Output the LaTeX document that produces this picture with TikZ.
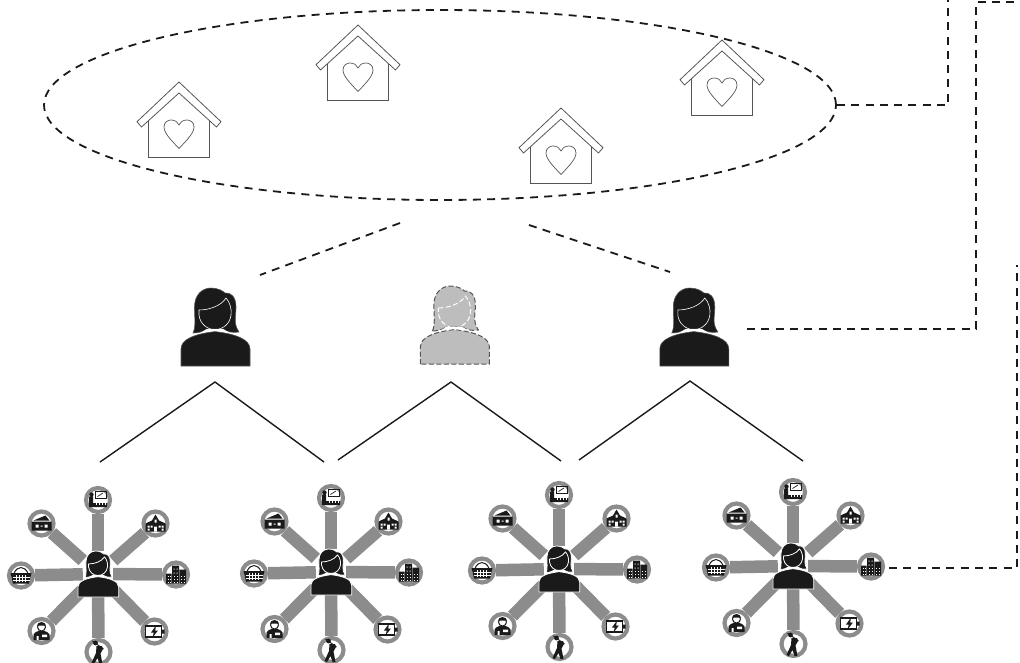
\documentclass[tikz,border=0pt]{standalone}
\usepackage{xcolor}
\usetikzlibrary{positioning,shapes.geometric}
\definecolor{inkblack}{HTML}{1A1A1A}
\definecolor{spokegray}{HTML}{8C8C8C}
\definecolor{ghostgray}{HTML}{BDBDBD}
\definecolor{edgegray}{HTML}{555555}
\tikzset{
  familyring/.style={ellipse,draw=inkblack,link,minimum width=792pt,minimum height=190pt,inner sep=0pt},
  link/.style={draw=inkblack,line width=1.8pt,dash pattern=on 8pt off 6.3pt},
  branch/.style={draw=inkblack,line width=1.4pt},
  personbox/.style={rectangle,minimum width=70pt,minimum height=80pt,inner sep=0pt},
  hubbox/.style={rectangle,minimum width=30pt,minimum height=46pt,inner sep=0pt},
  ring/.style={circle,draw=spokegray,line width=4.2pt,fill=white,minimum size=24pt,inner sep=0pt},
  spoke/.style={draw=spokegray,line width=12.5pt},
  solidperson/.style={fill=inkblack,draw=edgegray,line width=.6pt},
  hubperson/.style={fill=inkblack,draw=white,line width=.8pt,scale=.59},
  ghostperson/.style={fill=ghostgray,draw=edgegray,line width=1pt,dash pattern=on 5pt off 2.5pt},
  house/.pic={
    \draw[edgegray,line width=.8pt,line join=round] (0,-38) -- (42,1.7) -- (37.5,7) -- (0,-27) -- (-37.5,7) -- (-42,1.7) -- cycle;
    \draw[edgegray,line width=.8pt] (-30.3,.5) -- (-30.3,37.3) -- (30.7,37.3) -- (30.7,.5);
    \draw[edgegray,line width=.7pt] (0,28.5) .. controls (-8,20) and (-15,13) .. (-15,7)
      .. controls (-15,2) and (-11,0) .. (-8,0) .. controls (-4,0) and (-1,2) .. (0,5)
      .. controls (1,2) and (4,0) .. (8,0) .. controls (11,0) and (15,2) .. (15,7)
      .. controls (15,13) and (8,20) .. (0,28.5) -- cycle;
  },
  woman/.pic={
    \path[pic actions] (-34,39) -- (-34,22) .. controls (-34,12) and (-20,7) .. (0,4.5)
      .. controls (20,7) and (35,12) .. (35,22) -- (35,39) -- cycle;
    \path[pic actions] (-22,6) .. controls (-19,0) and (-20.5,-10) .. (-20.5,-20)
      .. controls (-20.5,-32) and (-13,-39) .. (-4,-39) .. controls (3,-39) and (8,-36) .. (10,-34)
      .. controls (16,-35) and (21,-30) .. (21,-20) .. controls (21,-10) and (18,-4) .. (24,5)
      .. controls (18,6) and (12,5) .. (8,2) -- (-8,2) .. controls (-12,5) and (-18,6) .. (-22,6) -- cycle;
    \fill[white] (-8,2) -- (8,2) -- (14,5.5) -- (0,4) -- (-14,5.5) -- cycle;
    \path[pic actions,draw=white,fill=none] (-16,-17) .. controls (-6,-17) and (6,-21) .. (11,-29)
      .. controls (15,-25) and (17,-17) .. (16,-12) .. controls (15,-3) and (8,2) .. (0,3)
      .. controls (-8,2) and (-15,-3) .. (-16,-12) -- cycle;
  },
  board/.pic={
    \draw[inkblack,line width=1pt] (-3,-9) rectangle (8.5,-1.5);
    \draw[inkblack,line width=.7pt] (-.5,-3.5) -- (5,-7);
    \fill[inkblack] (-6.5,-5.5) circle (2.2) (-9,-3.5) rectangle (-5,7) (-5,3) rectangle (9,7);
    \foreach \tick in {-2,1,4,7}{\draw[white,line width=.6pt] (\tick,3) -- (\tick,5);}
  },
  wallet/.pic={
    \fill[inkblack] (-8,-3) -- (4,-8) -- (8,-3) -- cycle (-10,-2) rectangle (10,7);
    \fill[white] (-6,1) rectangle (-3,4) (3,1) rectangle (6,4) (-1,2) rectangle (1,3);
  },
  school/.pic={
    \fill[inkblack] (-10,0) -- (-3.5,-3) -- (0,-9) -- (3.5,-3) -- (10,0) -- (10,8) -- (-10,8) -- cycle;
    \fill[white] (-8,2) rectangle (-6,4.2) (-5,2) rectangle (-3,4.2) (3,2) rectangle (5,4.2) (6,2) rectangle (8,4.2)
      (-8,5.2) rectangle (-6,7) (6,5.2) rectangle (8,7) (-1.3,3) rectangle (1.3,8) (-1,-4) rectangle (1,-1);
  },
  city/.pic={
    \fill[inkblack] (-10,-1) rectangle (-4.5,9) (-4,-9) rectangle (3,9) (3.5,-5) rectangle (10,9);
    \foreach \wx in {-8.5,-6.5,-2.5,.5,5,7.5}{\foreach \wy in {1,4,7}{\fill[white] (\wx,\wy) rectangle +(1,1);}}
    \fill[white] (-2.5,-6) rectangle +(1,1) (.5,-6) rectangle +(1,1) (-2.5,-2) rectangle +(1,1) (.5,-2) rectangle +(1,1);
  },
  battery/.pic={
    \draw[inkblack,line width=1.6pt] (-9,-5.5) rectangle (7,5.5);
    \fill[inkblack] (7,-2) rectangle (10,2) (1.5,-6) -- (-3.5,1) -- (-.7,1) -- (-2,6) -- (3.5,-1) -- (.7,-1) -- cycle;
  },
  golfer/.pic={
    \fill[inkblack] (-3,-9) circle (2.4);
    \draw[inkblack,line width=.9pt] (-6,-11) -- (5,-3);
    \fill[inkblack] (-2,-6) -- (3.5,-6) -- (4.5,-3) -- (2,1.5) -- (4,12) -- (1,12) -- (-1,6) -- (-4.5,12) -- (-7,11) -- (-2.5,1) -- cycle;
  },
  worker/.pic={
    \draw[inkblack,line width=1pt] (0,-4) circle (4);
    \fill[inkblack] (-4.5,-5.5) .. controls (-4,-10) and (4,-10) .. (4.5,-5.5) -- cycle;
    \fill[inkblack] (-8,9) -- (-8,3.5) .. controls (-7,1.5) and (-5,.5) .. (-3,0) -- (3,0)
      .. controls (5,.5) and (7,1.5) .. (8,3.5) -- (8,9) -- cycle;
    \fill[white] (.5,3.5) rectangle (5.5,6) (-5,5) rectangle (-3,9);
  },
  basket/.pic={
    \draw[inkblack,line width=1pt] (-7,-2) .. controls (-4,-10) and (4,-10) .. (7,-2);
    \fill[inkblack] (-10.5,-2.5) -- (10.5,-2.5) -- (8,8) -- (-8,8) -- cycle;
    \foreach \gx in {-4.5,-1.5,1.5,4.5}{\draw[white,line width=.7pt] (\gx,-.5) -- (\gx,6.8);}
    \foreach \gy in {1.5,4.5}{\draw[white,line width=.7pt] (-8.5,\gy) -- (8.5,\gy);}
  }
}

\begin{document}
\begin{tikzpicture}[x=1pt,y=-1pt,node distance=169pt]
  \useasboundingbox (0,0) rectangle (1020,662);
  % family circle
  \node[familyring] (family) at (440,105) {};
  \foreach \hname/\hx/\hy in {houseA/179/120,houseB/358/63,houseC/561/146,houseD/722/78}{
    \pic (\hname) at (\hx,\hy) {house};
  }
  % household members
  \node[personbox] (womanA) at (215,327) {};
  \node[personbox,right=of womanA,yshift=2pt] (womanB) {};
  \node[personbox,right=of womanB,yshift=-2pt] (womanC) {};
  \pic[solidperson] at (womanA) {woman};
  \pic[ghostperson] at (womanB) {woman};
  \pic[solidperson] at (womanC) {woman};
  % dashed ties
  \coordinate (tieAtop) at (400,223);
  \coordinate (tieAend) at (260,275);
  \coordinate (tieBtop) at (529,225);
  \coordinate (tieBend) at (670,272);
  \draw[link] (tieAtop) -- (tieAend);
  \draw[link] (tieBtop) -- (tieBend);
  % branches down to the hubs
  \foreach \peak/\px/\py/\lx/\ly/\rx/\ry in {A/215/382/100/462/324/462,B/451/382/338/460/561/461,C/690/381/579/460/803/461}{
    \coordinate (peak\peak) at (\px,\py);
    \coordinate (left\peak) at (\lx,\ly);
    \coordinate (right\peak) at (\rx,\ry);
    \draw[branch] (left\peak) -- (peak\peak) -- (right\peak);
  }
  % activity hubs
  \foreach \hub/\cx/\cy in {hubA/98/574,hubB/331/572,hubC/559/569,hubD/793/566}{
    \node[hubbox] (\hub) at (\cx,\cy) {};
    \foreach \icon/\dx/\dy in {board/0/-74,school/57.5/-50.5,city/78/.5,battery/56.5/57.5,golfer/.5/78,worker/-56.5/57,basket/-77/1.5,wallet/-56.5/-50.5}{
      \node[ring] (\hub-\icon) at (\cx+\dx,\cy+\dy) {};
      \draw[spoke] (\hub) -- (\hub-\icon);
      \pic at (\hub-\icon) {\icon};
    }
    \pic[hubperson] at (\hub) {woman};
  }
  % links leaving the picture
  \coordinate (exitA) at (948,0);
  \coordinate (cornerB) at (976,2);
  \coordinate (exitB) at (1020,2);
  \coordinate (exitC) at (1017,265);
  \draw[link] (family.east) -| (exitA);
  \draw[link] ([xshift=18pt,yshift=-2pt]womanC.east) -| (cornerB) -- (exitB);
  \draw[link] ([xshift=4pt,yshift=-1.5pt]hubD-city.east) -| (exitC);
\end{tikzpicture}
\end{document}
